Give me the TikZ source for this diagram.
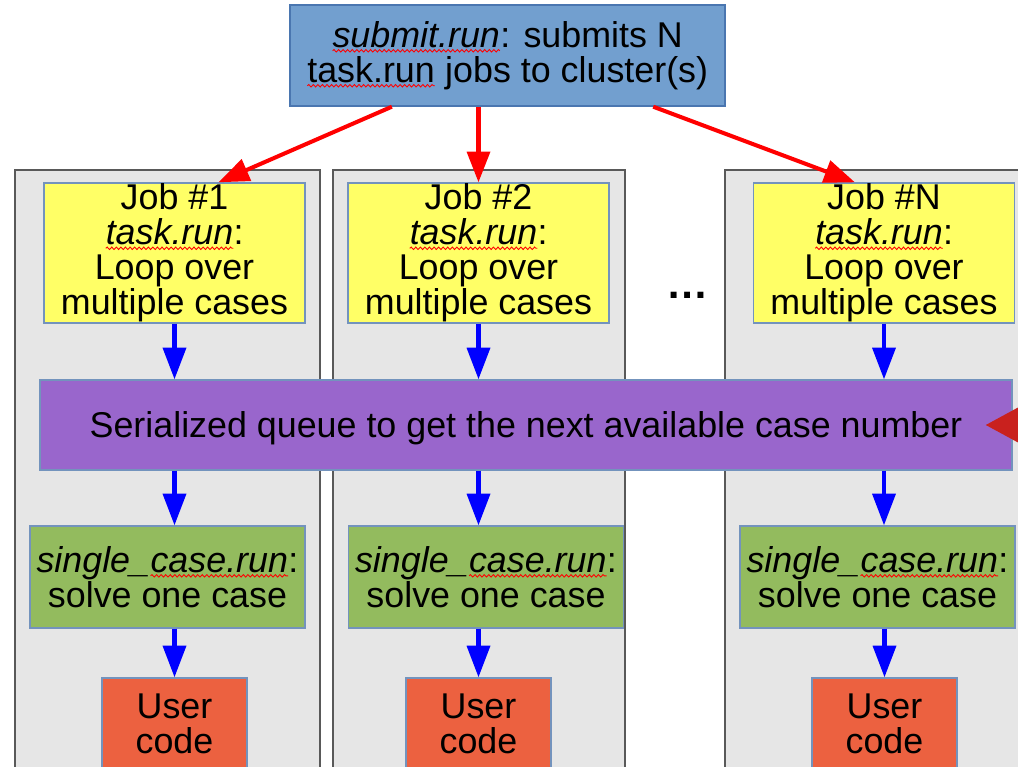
\documentclass[tikz,border=0pt]{standalone}
\usepackage{fontspec}
\setmainfont{Liberation Sans}
\usetikzlibrary{arrows.meta,positioning,calc,decorations.pathmorphing}

\definecolor{headblue}{HTML}{729FCF}
\definecolor{headedge}{HTML}{4A76B0}
\definecolor{boxedge}{HTML}{7393BD}
\definecolor{jobyellow}{HTML}{FFFF66}
\definecolor{queuepurple}{HTML}{9966CC}
\definecolor{casegreen}{HTML}{93BB5E}
\definecolor{userorange}{HTML}{EC6140}
\definecolor{colgray}{HTML}{E6E6E6}
\definecolor{feedred}{HTML}{C9211E}

\newcommand{\boxfont}{\fontsize{20.4}{19.9}\selectfont}

\tikzset{
    word/.style={draw=none, fill=none, shape=rectangle, inner sep=0pt, outer sep=0pt,
                 minimum width=0pt, minimum height=0pt, text width=, anchor=base},
    squiggle/.style={draw=red, fill=none, line width=0.5pt, decorate,
                     decoration={snake, amplitude=0.7pt, segment length=2.6pt}}
}
% red wavy underline under a word
\newcommand{\spell}[1]{\tikz[baseline=(w.base)]{\node[word] (w) {#1};
    \draw[squiggle] ([yshift=-2pt]w.base west) -- ([yshift=-2pt]w.base east);}}

\begin{document}
\begin{tikzpicture}[
    x=0.02cm, y=-0.02cm,
    column/.style={draw=black!65, line width=1pt, fill=colgray, minimum height=12.6cm},
    box/.style={draw=boxedge, line width=0.8pt, align=center, inner sep=0pt, font=\boxfont},
    head/.style={box, draw=headedge, fill=headblue, minimum width=8.7cm, minimum height=2.02cm},
    job/.style={box, fill=jobyellow, minimum width=5.22cm, minimum height=2.8cm},
    queue/.style={box, fill=queuepurple, minimum width=19.44cm, minimum height=1.8cm,
                  text height=18.5pt, text depth=4.3pt},
    case/.style={box, fill=casegreen, minimum width=5.5cm, minimum height=2.04cm},
    user/.style={box, fill=userorange, minimum width=2.9cm, minimum height=1.84cm},
    redarrow/.style={draw=red, line width=2.3pt, -{Triangle[length=17.5pt, width=13pt]}},
    flow/.style={draw=blue, line width=2.3pt, -{Triangle[length=18pt, width=13pt]}},
    feedarrow/.style={draw=feedred, line width=3pt, -{Triangle[length=22.5pt, width=23.5pt]}}
]
\useasboundingbox (0,0) rectangle (1018,767);
\clip (0,0) rectangle (1018,767);

\node[column, minimum width=6.1cm] (col1) at (167.5,485) {};
\node[column, minimum width=5.84cm] (col2) at (479,485) {};
\node[column, minimum width=6.3cm] (colN) at (882.5,485) {};

\node[head] (submit) at (507.5,55.5) {\spell{\textit{submit.run}}: submits N\\\spell{task.run} jobs to cluster(s)};

\node[job] (job1) at (174.5,253) {Job \#1\\\spell{\textit{task.run}}:\\Loop over\\multiple cases};
\node[job] (job2) at (478.5,253) {Job \#2\\\spell{\textit{task.run}}:\\Loop over\\multiple cases};
\node[job] (jobN) at (884,253) {Job \#N\\\spell{\textit{task.run}}:\\Loop over\\multiple cases};
\node[font=\fontsize{24}{24}\selectfont\bfseries, inner sep=0pt] (more) at (688,295) {…};

\node[queue] (queue) at (526,425) {Serialized queue to get the next available case number};

\node[case] (case1) at (167.5,577) {\textit{single\_\spell{case.run}}:\\solve one case};
\node[case] (case2) at (486,577) {\textit{single\_\spell{case.run}}:\\solve one case};
\node[case] (caseN) at (877.5,577) {\textit{single\_\spell{case.run}}:\\solve one case};

\node[user] (user1) at (174.5,724) {User\\code};
\node[user] (user2) at (478.5,724) {User\\code};
\node[user] (userN) at (884.5,724) {User\\code};

\draw[redarrow] ($(submit.south west)!0.235!(submit.south east)$) -- ($(job1.north west)!0.667!(job1.north east)$);
\draw[redarrow] (submit.south -| job2.north) -- (job2.north);
\draw[redarrow] ($(submit.south west)!0.834!(submit.south east)$) -- ($(jobN.north west)!0.389!(jobN.north east)$);

\draw[flow] (job1.south) -- (job1 |- queue.north);
\draw[flow] (job2.south) -- (job2 |- queue.north);
\draw[flow] (jobN.south) -- (jobN |- queue.north);
\draw[flow] (job1 |- queue.south) -- (job1 |- case1.north);
\draw[flow] (job2 |- queue.south) -- (job2 |- case2.north);
\draw[flow] (jobN |- queue.south) -- (jobN |- caseN.north);
\draw[flow] (user1 |- case1.south) -- (user1.north);
\draw[flow] (user2 |- case2.south) -- (user2.north);
\draw[flow] (userN |- caseN.south) -- (userN.north);

\coordinate (feed) at ($(queue.east)+(60,0)$);
\draw[feedarrow] (feed) -- ($(queue.east)+(-27,0)$);
\end{tikzpicture}
\end{document}
